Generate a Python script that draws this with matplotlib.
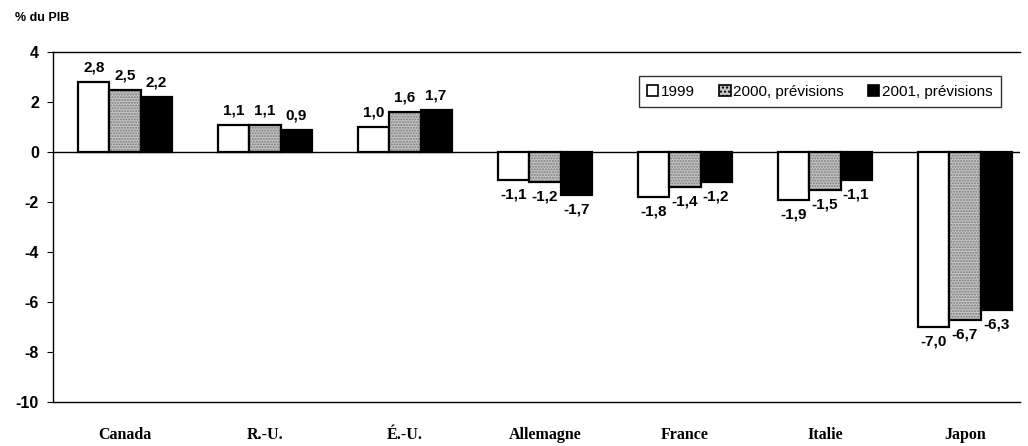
import matplotlib
matplotlib.use("Agg")
import matplotlib.pyplot as plt
import numpy as np
from matplotlib.patches import Patch

categories = ["Canada", "R.-U.", "É.-U.", "Allemagne", "France", "Italie", "Japon"]
series_names = ["1999", "2000, prévisions", "2001, prévisions"]
v1999 = [2.8, 1.1, 1.0, -1.1, -1.8, -1.9, -7.0]
v2000 = [2.5, 1.1, 1.6, -1.2, -1.4, -1.5, -6.7]
v2001 = [2.2, 0.9, 1.7, -1.7, -1.2, -1.1, -6.3]
yticks = [4, 2, 0, -2, -4, -6, -8, -10]

sans = "Liberation Sans"
serif = "Liberation Serif"

fig = plt.figure(figsize=(10.28, 4.46), dpi=100)
ax = fig.add_axes([53/1028, 1-402/446, (1020-53)/1028, (402-52)/446])

x = np.arange(len(categories))
w = 0.222
offs = [-w, 0, w]

def fmt(v):
    return f"{v:.1f}".replace(".", ",")

# 1999 white
ax.bar(x + offs[0], v1999, w, color="white", edgecolor="black", linewidth=1.6, zorder=3)
# 2000 stippled gray
ax.bar(x + offs[1], v2000, w, color="#c4c4c4", edgecolor="#7a7a7a", hatch="......", linewidth=0, zorder=3)
ax.bar(x + offs[1], v2000, w, fill=False, edgecolor="black", linewidth=1.6, zorder=4)
# 2001 black
ax.bar(x + offs[2], v2001, w, color="black", edgecolor="black", linewidth=1.6, zorder=3)

for vals, o in zip([v1999, v2000, v2001], offs):
    for xi, v in zip(x, vals):
        if v >= 0:
            ax.text(xi + o, v + 0.3, fmt(v), ha="center", va="bottom",
                    fontsize=11, fontweight="bold", family=sans)
        else:
            ax.text(xi + o, v - 0.3, fmt(v), ha="center", va="top",
                    fontsize=11, fontweight="bold", family=sans)

ax.axhline(0, color="black", linewidth=1.0, zorder=2)

ax.set_ylim(-10, 4)
ax.set_xlim(-0.5 - 2/140, -0.5 + (1020-55)/140)
ax.set_yticks(yticks)
ax.set_yticklabels([str(t) for t in yticks], fontsize=11.5, fontweight="bold", family=sans)
ax.set_xticks(x)
ax.set_xticklabels(categories, fontsize=11.5, fontweight="bold", family=serif)
ax.tick_params(axis="x", length=0, pad=18)
ax.tick_params(axis="y", direction="out", length=4, width=0.8, pad=6)
ax.spines["right"].set_visible(False)
for s in ["left", "top", "bottom"]:
    ax.spines[s].set_linewidth(1.0)

fig.text(15/1028, 1-18/446, "% du PIB", fontsize=9, fontweight="bold", family=sans, va="center")

handles = [
    Patch(facecolor="white", edgecolor="black", linewidth=1.2),
    Patch(facecolor="#c4c4c4", edgecolor="black", hatch="....", linewidth=1.2),
    Patch(facecolor="black", edgecolor="black", linewidth=1.2),
]
leg = ax.legend(handles, series_names, ncol=3, loc="upper right",
                bbox_to_anchor=(0.988, 0.952), frameon=True, fancybox=False,
                handlelength=0.75, handleheight=0.75, handletextpad=0.15,
                columnspacing=1.6, borderpad=0.55,
                prop={"family": sans, "size": 11})
leg.get_frame().set_edgecolor("black")
leg.get_frame().set_linewidth(1.0)

fig.savefig("out.png", dpi=100)
